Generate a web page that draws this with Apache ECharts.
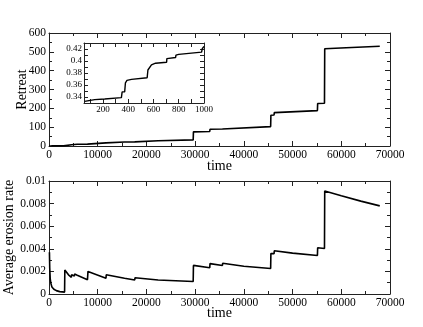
<!DOCTYPE html>
<html>
<head>
<meta charset="utf-8">
<script src="https://cdn.jsdelivr.net/npm/echarts@6/dist/echarts.min.js"></script>
<style>
  html, body { margin: 0; padding: 0; background: #fff; }
  #chart { width: 423px; height: 327px; }
</style>
</head>
<body>
<div id="chart"></div>
<script>
// retreat vs time (top panel)
const retreatTime = [0, 500, 1000, 3000, 3200, 3250, 4600, 4650, 5200, 5250, 5800, 7900, 8000, 11700, 11750, 15500, 17600, 17650, 22400, 29600, 29650, 33000, 33050, 35600, 35650, 45500, 45550, 46200, 46250, 55100, 55150, 56550, 56600, 61000, 67900]
const retreatValue = [0, 0.4, 0.43, 0.5, 0.6, 6.8, 6.8, 8.0, 8.2, 9.3, 9.6, 10.0, 16, 16.4, 20, 21.6, 21.8, 25.5, 27.8, 32.5, 75, 77, 89, 90, 97, 103, 163, 165, 177, 188, 226, 227, 516, 522, 530]

// average erosion rate vs time (bottom panel)
const rateTime = [90, 150, 250, 400, 600, 1000, 1500, 2200, 3200, 3250, 4000, 4600, 4650, 5200, 5250, 5800, 7900, 8000, 11700, 11750, 15500, 17600, 17650, 22400, 29600, 29650, 33000, 33050, 35600, 35650, 40000, 45500, 45550, 46200, 46250, 50000, 55100, 55150, 56550, 56600, 60000, 64000, 67900]
const rateValue = [0.0037, 0.0023, 0.00135, 0.00092, 0.00062, 0.00042, 0.0003, 0.00021, 0.00017, 0.00213, 0.0017, 0.00148, 0.00172, 0.00158, 0.00177, 0.00166, 0.00127, 0.002, 0.0014, 0.0017, 0.00139, 0.00124, 0.00144, 0.00124, 0.0011, 0.00253, 0.00233, 0.00269, 0.00252, 0.00272, 0.00245, 0.00226, 0.00358, 0.00357, 0.00383, 0.00362, 0.00341, 0.0041, 0.00402, 0.00912, 0.0087, 0.00822, 0.0078]

// inset: early retreat
const insetTime = [55, 135, 214, 346, 352, 372, 378, 390, 426, 550, 556, 571, 584, 616, 704, 706, 720, 775, 778, 800, 981, 986, 994, 1000]
const insetValue = [0.3328, 0.3356, 0.3367, 0.339, 0.3485, 0.3485, 0.3637, 0.3676, 0.3693, 0.372, 0.385, 0.3879, 0.3935, 0.3963, 0.398, 0.404, 0.405, 0.4058, 0.4098, 0.411, 0.4148, 0.4204, 0.4233, 0.4245]

const insetXTicks = [100, 200, 300, 400, 500, 600, 700, 800, 900, 1000]
const insetXLabels = [200, 400, 600, 800, 1000]
const insetYLabels = [0.34, 0.36, 0.38, 0.4, 0.42]

const FONT = '"Liberation Serif", serif'
const INK = '#000'

function pairs(xs, ys) {
  return xs.map((x, i) => [x, ys[i]])
}

function axis(gridIndex, position, opts) {
  const a = {
    type: 'value',
    gridIndex,
    position,
    min: opts.min,
    max: opts.max,
    interval: opts.interval,
    axisLine: { show: true, onZero: false, lineStyle: { color: '#222', width: 1 } },
    axisTick: { show: true, inside: true, length: opts.tickLen || 5, lineStyle: { color: '#222' } },
    minorTick: { show: opts.minor !== false, splitNumber: 2, length: opts.minorLen || 3, lineStyle: { color: '#222' } },
    splitLine: { show: false },
    axisLabel: {
      show: opts.labels !== false,
      color: INK,
      fontFamily: FONT,
      fontSize: opts.fontSize || 11.5,
      margin: opts.margin || 3,
      formatter: v => String(+(+v).toFixed(6))
    }
  }
  if (opts.tickValues) a.axisTick.customValues = opts.tickValues
  if (opts.labelValues) a.axisLabel.customValues = opts.labelValues
  if (opts.name) {
    a.name = opts.name
    a.nameLocation = 'middle'
    a.nameGap = opts.nameGap
    a.nameMoveOverlap = false
    a.nameTextStyle = { color: INK, fontFamily: FONT, fontSize: 14 }
  }
  return a
}

const chart = echarts.init(document.getElementById('chart'), null, { renderer: 'canvas' })

const option = {
  animation: false,
  backgroundColor: '#fff',
  textStyle: { fontFamily: FONT, color: INK },
  grid: [
    { left: 49, top: 33, width: 341, height: 113, outerBoundsMode: 'none' },
    { left: 49, top: 181, width: 341, height: 113, outerBoundsMode: 'none' },
    { left: 84, top: 43, width: 120, height: 60, outerBoundsMode: 'none' }
  ],
  xAxis: [
    axis(0, 'bottom', { min: 0, max: 70000, interval: 10000, name: 'time', nameGap: 13 }),
    axis(0, 'top', { min: 0, max: 70000, interval: 10000, labels: false }),
    axis(1, 'bottom', { min: 0, max: 70000, interval: 10000, name: 'time', nameGap: 12 }),
    axis(1, 'top', { min: 0, max: 70000, interval: 10000, labels: false }),
    axis(2, 'bottom', { min: 50, max: 1000, tickValues: insetXTicks, labelValues: insetXLabels, minor: false, tickLen: 4, fontSize: 9, margin: 2 }),
    axis(2, 'top', { min: 50, max: 1000, tickValues: insetXTicks, minor: false, tickLen: 4, labels: false })
  ],
  yAxis: [
    axis(0, 'left', { min: 0, max: 600, interval: 100, name: 'Retreat', nameGap: 20 }),
    axis(0, 'right', { min: 0, max: 600, interval: 100, labels: false }),
    axis(1, 'left', { min: 0, max: 0.01, interval: 0.002, name: 'Average erosion rate', nameGap: 33 }),
    axis(1, 'right', { min: 0, max: 0.01, interval: 0.002, labels: false }),
    axis(2, 'left', { min: 0.33, max: 0.43, interval: 0.01, labelValues: insetYLabels, minor: false, tickLen: 4, fontSize: 9, margin: 2 }),
    axis(2, 'right', { min: 0.33, max: 0.43, interval: 0.01, minor: false, tickLen: 4, labels: false })
  ],
  series: [
    {
      type: 'line', xAxisIndex: 0, yAxisIndex: 0,
      data: pairs(retreatTime, retreatValue),
      showSymbol: false, lineStyle: { color: INK, width: 1.6 }
    },
    {
      type: 'line', xAxisIndex: 2, yAxisIndex: 2,
      data: pairs(rateTime, rateValue),
      showSymbol: false, lineStyle: { color: INK, width: 1.6 }
    },
    {
      type: 'line', xAxisIndex: 4, yAxisIndex: 4,
      data: pairs(insetTime, insetValue),
      showSymbol: false, lineStyle: { color: INK, width: 1.4 }
    }
  ]
}

chart.setOption(option)
</script>
</body>
</html>
